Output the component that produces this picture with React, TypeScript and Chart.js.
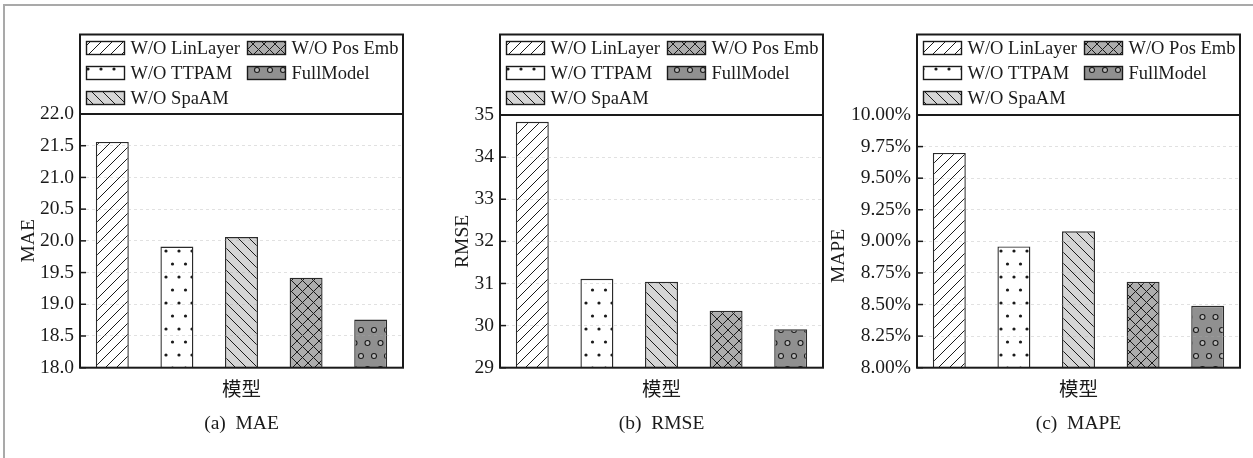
import React, { useEffect, useRef } from 'react';
import { Chart, registerables } from 'chart.js';

Chart.register(...registerables);

// ---- data ----
const categories = ['W/O LinLayer', 'W/O TTPAM', 'W/O SpaAM', 'W/O Pos Emb', 'FullModel'];
const maeValues = [21.56, 19.91, 20.06, 19.42, 18.76];
const rmseValues = [34.84, 31.11, 31.04, 30.35, 29.91];
const mapeValues = [9.7, 8.96, 9.08, 8.68, 8.49];
const maeTicks = [18.0, 18.5, 19.0, 19.5, 20.0, 20.5, 21.0, 21.5, 22.0];
const rmseTicks = [29, 30, 31, 32, 33, 34, 35];
const mapeTicks = [8.0, 8.25, 8.5, 8.75, 9.0, 9.25, 9.5, 9.75, 10.0];
const xTitle = '模型';

const FONT = "'Liberation Serif', 'Noto Sans CJK SC', serif";
const INK = '#1a1a1a';

type Spec = {
  values: number[];
  ticks: number[];
  fmt: (v: number) => string;
  yTitle: string;
  caption: string;
  left: number;
  width: number;
  yWidth: number;
  padRight: number;
  top: number;
  yTitlePad: number;
};

const panels: Spec[] = [
  { values: maeValues, ticks: maeTicks, fmt: (v) => v.toFixed(1), yTitle: 'MAE', caption: '(a)  MAE',
    left: 0, width: 418, yWidth: 80, padRight: 15, top: 114, yTitlePad: 17.5 },
  { values: rmseValues, ticks: rmseTicks, fmt: (v) => v.toFixed(0), yTitle: 'RMSE', caption: '(b)  RMSE',
    left: 420, width: 418, yWidth: 80, padRight: 15, top: 115, yTitlePad: 30.8 },
  { values: mapeValues, ticks: mapeTicks, fmt: (v) => v.toFixed(2) + '%', yTitle: 'MAPE      ', caption: '(c)  MAPE',
    left: 822, width: 431, yWidth: 95, padRight: 13, top: 115, yTitlePad: 5 },
];

function tile(w: number, h: number, bg: string, draw: (c: CanvasRenderingContext2D) => void) {
  const c = document.createElement('canvas');
  c.width = w;
  c.height = h;
  const g = c.getContext('2d')!;
  g.fillStyle = bg;
  g.fillRect(0, 0, w, h);
  g.strokeStyle = INK;
  g.fillStyle = INK;
  draw(g);
  return c;
}

function makePatterns(ctx: CanvasRenderingContext2D) {
  const s = 11;
  const fwd = (g: CanvasRenderingContext2D) => {
    g.lineWidth = 1;
    g.beginPath();
    g.moveTo(0, s); g.lineTo(s, 0);
    g.moveTo(-2, 2); g.lineTo(2, -2);
    g.moveTo(s - 2, s + 2); g.lineTo(s + 2, s - 2);
    g.stroke();
  };
  const back = (g: CanvasRenderingContext2D) => {
    g.lineWidth = 1;
    g.beginPath();
    g.moveTo(0, 0); g.lineTo(s, s);
    g.moveTo(-2, s - 2); g.lineTo(2, s + 2);
    g.moveTo(s - 2, -2); g.lineTo(s + 2, 2);
    g.stroke();
  };
  const lin = tile(s, s, '#ffffff', fwd);
  const spa = tile(s, s, '#d5d5d5', back);
  const pos = tile(s, s, '#adadad', (g) => { fwd(g); back(g); });
  const dots = tile(13, 26, '#ffffff', (g) => {
    [[3.5, 4], [10, 17]].forEach(([x, y]) => {
      g.beginPath(); g.arc(x, y, 1.6, 0, Math.PI * 2); g.fill();
    });
  });
  const rings = tile(13, 26, '#909090', (g) => {
    g.lineWidth = 1.1;
    [[3.5, 5], [10, 18]].forEach(([x, y]) => {
      g.beginPath(); g.arc(x, y, 2.5, 0, Math.PI * 2);
      g.fillStyle = '#b8b8b8'; g.fill(); g.stroke();
    });
  });
  return [lin, dots, spa, pos, rings].map((c) => ctx.createPattern(c, 'repeat') as CanvasPattern);
}

const LEGEND_TOP = 34.5;

const framePlugin = {
  id: 'frameLegend',
  afterDraw(chart: any) {
    const { ctx, chartArea: a } = chart;
    const bg = chart.data.datasets[0].backgroundColor;
    ctx.save();
    chart.data.labels.forEach((label: string, i: number) => {
      const col = i < 3 ? 0 : 1;
      const row = i < 3 ? i : i - 3;
      const x = a.left + (col === 0 ? 6.5 : 167.5);
      const yc = LEGEND_TOP + 13.5 + row * 25;
      ctx.fillStyle = bg[i];
      ctx.fillRect(x, yc - 6.5, 38, 13);
      ctx.strokeStyle = INK;
      ctx.lineWidth = 1.4;
      ctx.strokeRect(x, yc - 6.5, 38, 13);
      ctx.fillStyle = INK;
      ctx.font = `18.5px ${FONT}`;
      ctx.textBaseline = 'middle';
      ctx.textAlign = 'left';
      ctx.fillText(label, x + 44, yc + 1.5);
    });
    ctx.strokeStyle = INK;
    ctx.lineWidth = 2;
    ctx.strokeRect(a.left, LEGEND_TOP, a.right - a.left, a.bottom - LEGEND_TOP);
    ctx.beginPath();
    ctx.moveTo(a.left, a.top);
    ctx.lineTo(a.right, a.top);
    ctx.stroke();
    const ys = chart.scales.y;
    ctx.lineWidth = 1.5;
    ys.ticks.forEach((t: any) => {
      const py = ys.getPixelForValue(t.value);
      ctx.beginPath();
      ctx.moveTo(a.left, py);
      ctx.lineTo(a.left + 6, py);
      ctx.stroke();
    });
    ctx.restore();
  },
};

function Panel({ spec }: { spec: Spec }) {
  const ref = useRef<HTMLCanvasElement>(null);
  useEffect(() => {
    const canvas = ref.current!;
    const ctx = canvas.getContext('2d')!;
    const patterns = makePatterns(ctx);
    const chart = new Chart(canvas, {
      type: 'bar',
      data: {
        labels: categories,
        datasets: [
          {
            data: spec.values,
            backgroundColor: patterns as any,
            borderColor: '#2a2a2a',
            borderWidth: 1.4,
            borderSkipped: 'start',
            barPercentage: 0.51,
            categoryPercentage: 1,
          },
        ],
      },
      options: {
        responsive: false,
        animation: false,
        devicePixelRatio: 1,
        layout: { padding: { left: 0, right: spec.padRight, top: spec.top, bottom: 17.5 } },
        plugins: { legend: { display: false }, tooltip: { enabled: false }, title: { display: false } },
        scales: {
          x: {
            grid: { display: false },
            border: { display: false },
            ticks: { display: false },
            title: {
              display: true,
              text: [xTitle, spec.caption],
              font: { family: FONT, size: 19.5, lineHeight: 1.69 },
              color: INK,
              padding: { top: 0, bottom: 0 },
            },
            afterFit: (s: any) => { s.height = 72.8; },
          },
          y: {
            min: spec.ticks[0],
            max: spec.ticks[spec.ticks.length - 1],
            afterBuildTicks: (axis: any) => { axis.ticks = spec.ticks.map((v) => ({ value: v })); },
            ticks: {
              callback: (v: any) => spec.fmt(Number(v)),
              font: { family: FONT, size: 19.5 },
              color: INK,
              padding: 6,
            },
            grid: { color: 'rgba(170,170,170,0.35)', lineWidth: 1, drawTicks: false, z: 1 },
            border: { display: false, dash: [3, 3] },
            title: {
              display: true,
              text: spec.yTitle,
              font: { family: FONT, size: 19.5 },
              color: INK,
              padding: { top: spec.yTitlePad, bottom: 0 },
            },
            afterFit: (s: any) => { s.width = spec.yWidth; },
          },
        },
      },
      plugins: [framePlugin],
    });
    return () => chart.destroy();
  }, []);
  return (
    <canvas
      ref={ref}
      width={spec.width}
      height={458}
      style={{ position: 'absolute', left: spec.left, top: 0, width: spec.width, height: 458 }}
    />
  );
}

export default function App() {
  return (
    <div style={{ position: 'absolute', left: 0, top: 0, width: 1253, height: 458, overflow: 'hidden', background: '#fff' }}>
      <div
        style={{
          position: 'absolute', left: 3, top: 4, width: 1260, height: 470,
          borderTop: '2px solid #a9a9a9', borderLeft: '2px solid #a9a9a9',
        }}
      />
      {panels.map((p, i) => (
        <Panel key={i} spec={p} />
      ))}
    </div>
  );
}
